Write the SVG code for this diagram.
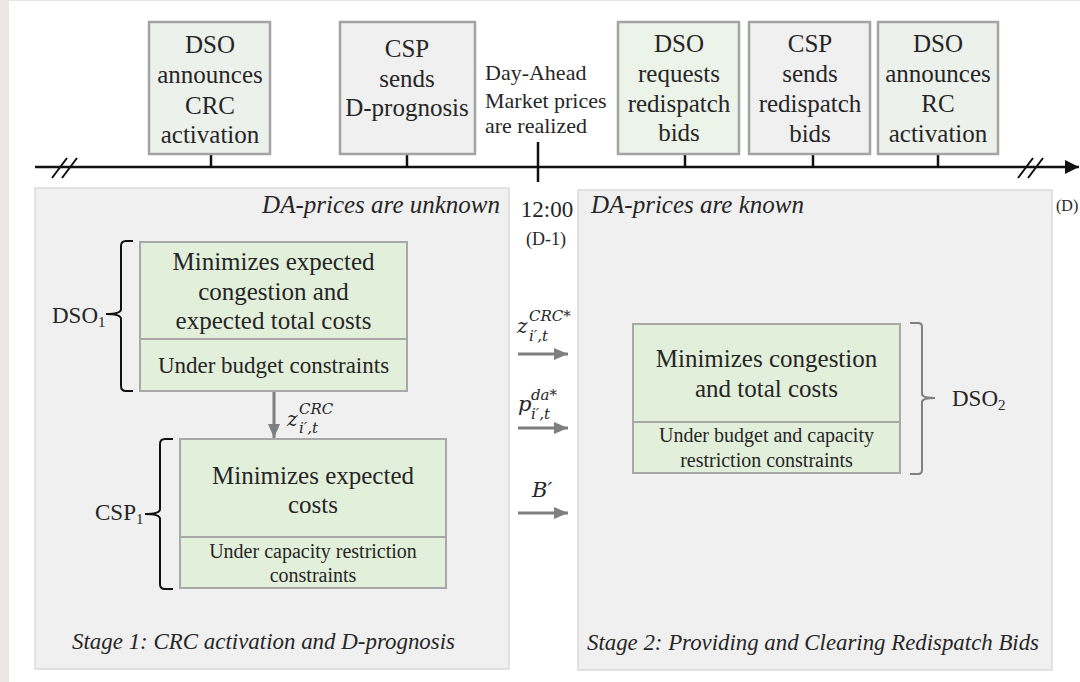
<svg xmlns="http://www.w3.org/2000/svg" width="1080" height="682" viewBox="0 0 1080 682">
<defs>
<style>
.t{font-family:"Liberation Serif","Times New Roman",serif;fill:#262626}
.ev{font-size:25px;text-anchor:middle}
.it{font-style:italic}
.m{font-family:"DejaVu Serif","Liberation Serif",serif;font-style:italic;fill:#262626}
.evbox{stroke:#a3a3a3;stroke-width:2.5}
.gbox{fill:#e2efda;stroke:#a8a8a8;stroke-width:2}
.panel{fill:#f0f0f0;stroke:#dadada;stroke-width:1.5}
.tick{stroke:#111;stroke-width:2.5}
.garr{stroke:#7f7f7f;stroke-width:3;fill:none}
.brk{stroke:#111;stroke-width:2;fill:none}
</style>
<marker id="ga" markerUnits="userSpaceOnUse" markerWidth="14" markerHeight="12" refX="14" refY="6" orient="auto">
<path d="M0,0 L14,6 L0,12 z" fill="#7f7f7f"/>
</marker>
<marker id="ba" markerUnits="userSpaceOnUse" markerWidth="14" markerHeight="14" refX="14" refY="7" orient="auto">
<path d="M0,0 L14,7 L0,14 z" fill="#111"/>
</marker>
</defs>
<rect x="0" y="0" width="1080" height="682" fill="#ffffff"/>
<rect x="0" y="0" width="9" height="682" fill="#ece6e6"/>
<rect x="9" y="0" width="1071" height="1" fill="#e6e6e6"/>

<g id="stage1-panel">
<rect class="panel" x="35" y="188" width="474" height="481"/>
<text class="t it" x="500" y="213" font-size="25" text-anchor="end">DA-prices are unknown</text>
<text class="t it" x="72" y="649" font-size="23" textLength="383" lengthAdjust="spacingAndGlyphs">Stage 1: CRC activation and D-prognosis</text>
</g>
<g id="stage2-panel">
<rect class="panel" x="578" y="190" width="474" height="480"/>
<text class="t it" x="591" y="213" font-size="25">DA-prices are known</text>
<text class="t it" x="587" y="650" font-size="23" textLength="452" lengthAdjust="spacingAndGlyphs">Stage 2: Providing and Clearing Redispatch Bids</text>
</g>

<g id="timeline">
<line x1="35" y1="167" x2="1079" y2="167" stroke="#111" stroke-width="2.5" marker-end="url(#ba)"/>
<line class="brk" x1="52" y1="178" x2="67" y2="158"/>
<line class="brk" x1="62" y1="178" x2="77" y2="158"/>
<line class="brk" x1="1018" y1="178" x2="1033" y2="158"/>
<line class="brk" x1="1028" y1="178" x2="1043" y2="158"/>
<line class="tick" x1="211" y1="154" x2="211" y2="167"/>
<line class="tick" x1="407" y1="154" x2="407" y2="167"/>
<line class="tick" x1="538" y1="142" x2="538" y2="182"/>
<line class="tick" x1="685" y1="154" x2="685" y2="167"/>
<line class="tick" x1="813" y1="154" x2="813" y2="167"/>
<line class="tick" x1="938" y1="154" x2="938" y2="167"/>
<text class="t" x="547" y="217" font-size="23" text-anchor="middle">12:00</text>
<text class="t" x="546" y="245" font-size="18" text-anchor="middle">(D-1)</text>
<text class="t" x="1056" y="211" font-size="16">(D)</text>
</g>

<g id="ev-dso-crc">
<rect class="evbox" x="149" y="22" width="121" height="132" fill="#edf1ec"/>
<text class="t ev" x="210" y="53">DSO</text>
<text class="t ev" x="210" y="83">announces</text>
<text class="t ev" x="210" y="114">CRC</text>
<text class="t ev" x="210" y="143">activation</text>
</g>
<g id="ev-csp-dprog">
<rect class="evbox" x="340" y="22" width="135" height="132" fill="#f0f0f0"/>
<text class="t ev" x="407" y="57">CSP</text>
<text class="t ev" x="407" y="87">sends</text>
<text class="t ev" x="407" y="116">D-prognosis</text>
</g>
<g id="ev-da-prices">
<text class="t" x="485" y="80" font-size="22">Day-Ahead</text>
<text class="t" x="485" y="108" font-size="22">Market prices</text>
<text class="t" x="485" y="133" font-size="22">are realized</text>
</g>
<g id="ev-dso-req">
<rect class="evbox" x="618" y="22" width="121" height="132" fill="#ecf3e8"/>
<text class="t ev" x="679" y="52">DSO</text>
<text class="t ev" x="679" y="82">requests</text>
<text class="t ev" x="679" y="112">redispatch</text>
<text class="t ev" x="679" y="141">bids</text>
</g>
<g id="ev-csp-bids">
<rect class="evbox" x="749" y="22" width="121" height="132" fill="#f0f0f0"/>
<text class="t ev" x="810" y="52">CSP</text>
<text class="t ev" x="810" y="82">sends</text>
<text class="t ev" x="810" y="112">redispatch</text>
<text class="t ev" x="810" y="142">bids</text>
</g>
<g id="ev-dso-rc">
<rect class="evbox" x="878" y="22" width="120" height="132" fill="#edf1ec"/>
<text class="t ev" x="938" y="52">DSO</text>
<text class="t ev" x="938" y="82">announces</text>
<text class="t ev" x="938" y="112">RC</text>
<text class="t ev" x="938" y="142">activation</text>
</g>

<g id="dso1">
<rect class="gbox" x="140" y="242" width="267" height="149"/>
<line x1="140" y1="339" x2="407" y2="339" stroke="#a8a8a8" stroke-width="2"/>
<text class="t" x="273.5" y="270" font-size="25" text-anchor="middle">Minimizes expected</text>
<text class="t" x="273.5" y="300" font-size="25" text-anchor="middle">congestion and</text>
<text class="t" x="273.5" y="329" font-size="25" text-anchor="middle">expected total costs</text>
<text class="t" x="273.5" y="373" font-size="23" text-anchor="middle">Under budget constraints</text>
<path d="M133,241 L126,241 Q121,241 121,246 L121,309 Q121,314 106,314 Q121,314 121,319 L121,386 Q121,391 126,391 L133,391" fill="none" stroke="#111" stroke-width="2"/>
<text class="t" x="52" y="323" font-size="23">DSO<tspan font-size="15" dy="4">1</tspan></text>
</g>

<g id="csp1">
<rect class="gbox" x="180" y="439" width="266" height="149"/>
<line x1="180" y1="537" x2="446" y2="537" stroke="#a8a8a8" stroke-width="2"/>
<text class="t" x="313" y="484" font-size="25" text-anchor="middle">Minimizes expected</text>
<text class="t" x="313" y="513" font-size="25" text-anchor="middle">costs</text>
<text class="t" x="313" y="558" font-size="20" text-anchor="middle">Under capacity restriction</text>
<text class="t" x="313" y="582" font-size="20" text-anchor="middle">constraints</text>
<path d="M173,439 L165,439 Q160,439 160,444 L160,509 Q160,514 145,514 Q160,514 160,519 L160,584 Q160,589 165,589 L173,589" fill="none" stroke="#111" stroke-width="2"/>
<text class="t" x="95" y="520" font-size="23">CSP<tspan font-size="15" dy="4">1</tspan></text>
</g>

<g id="dso2">
<rect class="gbox" x="633" y="324" width="267" height="149"/>
<line x1="633" y1="422" x2="900" y2="422" stroke="#a8a8a8" stroke-width="2"/>
<text class="t" x="766.5" y="367" font-size="25" text-anchor="middle">Minimizes congestion</text>
<text class="t" x="766.5" y="397" font-size="25" text-anchor="middle">and total costs</text>
<text class="t" x="766.5" y="442" font-size="20" text-anchor="middle">Under budget and capacity</text>
<text class="t" x="766.5" y="467" font-size="20" text-anchor="middle">restriction constraints</text>
<path d="M910,323 L918,323 Q922,323 922,327 L922,394 Q922,398 935,398 Q922,398 922,402 L922,470 Q922,474 918,474 L910,474" fill="none" stroke="#808080" stroke-width="2"/>
<text class="t" x="952" y="406" font-size="23">DSO<tspan font-size="15" dy="4">2</tspan></text>
</g>

<g id="connectors">
<line class="garr" x1="274" y1="392" x2="274" y2="438" marker-end="url(#ga)"/>
<text class="m" x="287" y="426" font-size="20">z</text>
<text class="m" x="299" y="414" font-size="15">CRC</text>
<text class="m" x="299" y="433" font-size="15">i′,t</text>

<line class="garr" x1="518" y1="354" x2="568" y2="354" marker-end="url(#ga)"/>
<text class="m" x="517" y="333" font-size="20">z</text>
<text class="m" x="529" y="321" font-size="15">CRC*</text>
<text class="m" x="529" y="341" font-size="15">i′,t</text>

<line class="garr" x1="518" y1="428" x2="568" y2="428" marker-end="url(#ga)"/>
<text class="m" x="518" y="411" font-size="21">p</text>
<text class="m" x="531" y="400" font-size="15">da*</text>
<text class="m" x="531" y="419" font-size="15">i′,t</text>

<line class="garr" x1="518" y1="513" x2="568" y2="513" marker-end="url(#ga)"/>
<text class="m" x="532" y="497" font-size="21">B′</text>
</g>
</svg>
